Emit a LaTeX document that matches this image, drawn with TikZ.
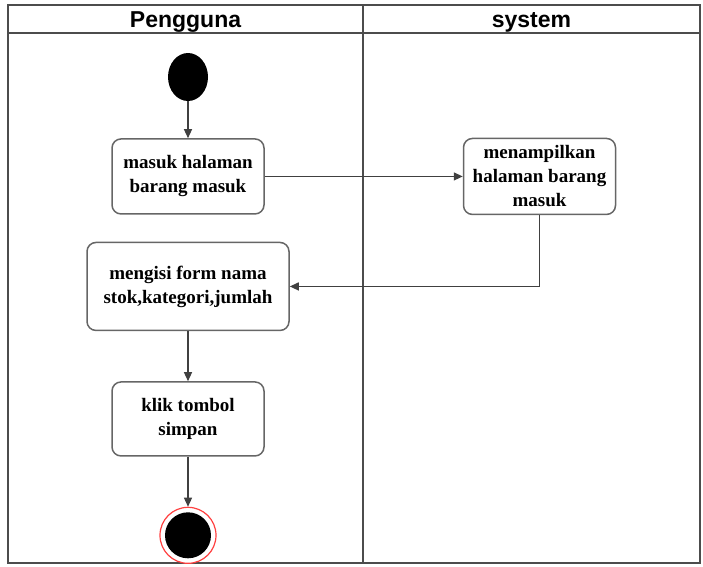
\documentclass[tikz,border=0pt]{standalone}
\usepackage{fontspec}
\setmainfont{Liberation Serif}
\newfontfamily\headfont{Liberation Sans}
\usetikzlibrary{positioning, arrows.meta, shapes.geometric}

\begin{document}
\begin{tikzpicture}[x=1pt, y=-1pt, >={Triangle[length=9pt, width=8pt]},
  every node/.style={font=\bfseries\fontsize{19}{24}\selectfont},
  lane/.style={line width=1.6pt, draw=black!70},
  lanehead/.style={font=\headfont\bfseries\fontsize{23}{24}\selectfont, anchor=base},
  actbox/.style={draw=black!60, line width=1.5pt, rounded corners=9pt, fill=white, align=center, minimum width=152pt, minimum height=75pt, inner sep=2pt},
  flow/.style={->, line width=1.3pt, draw=black!75}]

\useasboundingbox (0,0) rectangle (703,566);

% Swimlanes
\draw[lane] (8,5) rectangle (700,563);
\draw[lane] (8,33) -- (700,33);
\draw[lane] (363,5) -- (363,563);
\node (pengguna) [lanehead] at (185.5,27) {Pengguna};
\node (system) [lanehead] at (531.5,27) {system};

% Start
\node (start) at (188,77) [ellipse, fill=black, minimum width=40pt, minimum height=48pt, inner sep=0pt] {};

% Actions
\node (masuk) [actbox, below=37pt of start] {masuk halaman\\barang masuk};
\node (tampil) [actbox, right=198pt of masuk, minimum height=76pt] {menampilkan\\halaman barang\\masuk};
\node (isi) [actbox, below=27pt of masuk, minimum width=202pt, minimum height=88pt] {mengisi form nama\\stok,kategori,jumlah};
\node (simpan) [actbox, below=50pt of isi, minimum height=74pt] {klik tombol\\simpan};

% End
\node (end) [circle, draw=red!75, line width=1.2pt, fill=white, minimum size=56pt, inner sep=0pt, below=50pt of simpan] {};
\node (endcore) at (end) [circle, fill=black, minimum size=46pt, inner sep=0pt] {};

% Flows
\draw[flow] (start) -- (masuk);
\draw[flow] (masuk) -- (tampil);
\draw[flow] (tampil.south) |- (isi.east);
\draw[flow] (isi) -- (simpan);
\draw[flow] (simpan) -- (end);

\end{tikzpicture}
\end{document}
